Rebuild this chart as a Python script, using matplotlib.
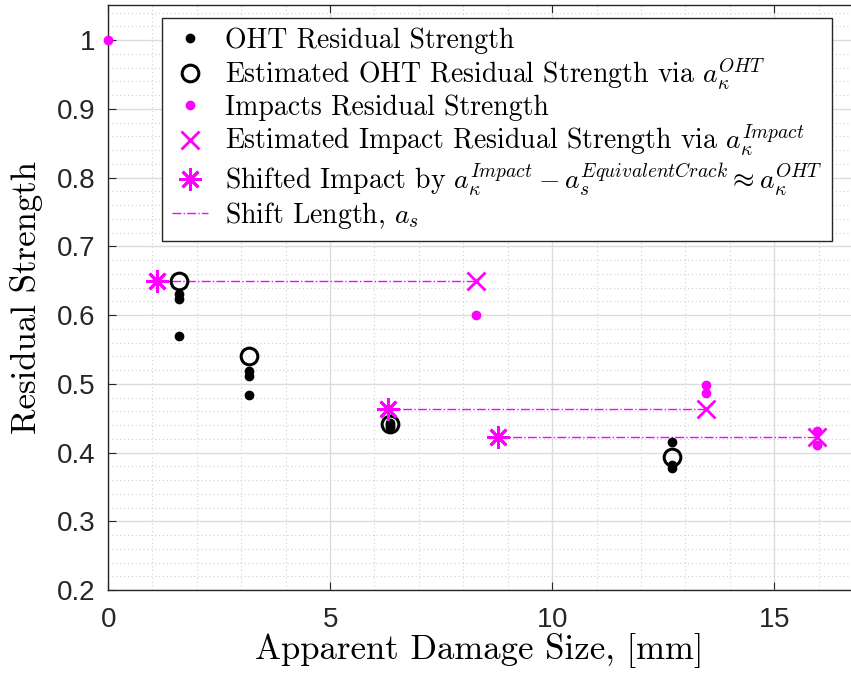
import matplotlib
matplotlib.use("Agg")
import matplotlib.pyplot as plt
from matplotlib.ticker import MultipleLocator

# measured data
oht_x = [1.59, 1.59, 1.59, 3.18, 3.18, 3.18, 6.35, 6.35, 6.35, 12.7, 12.7, 12.7]
oht_y = [0.631, 0.624, 0.569, 0.518, 0.512, 0.484, 0.443, 0.440, 0.437, 0.415, 0.382, 0.377]

est_oht_x = [1.59, 3.18, 6.35, 12.7]
est_oht_y = [0.650, 0.540, 0.442, 0.393]

imp_x = [0.0, 8.29, 13.46, 13.46, 15.96, 15.96]
imp_y = [1.0, 0.600, 0.498, 0.486, 0.432, 0.411]

est_imp_x = [8.29, 13.46, 15.96]
est_imp_y = [0.650, 0.463, 0.422]

shift_x = [1.10, 6.31, 8.78]
shift_y = [0.650, 0.463, 0.422]

plt.rcParams['mathtext.fontset'] = 'cm'
plt.rcParams['font.family'] = 'serif'
plt.rcParams['font.serif'] = ['cmr10', 'DejaVu Serif']
plt.rcParams['axes.formatter.use_mathtext'] = True

mag = '#ff00ff'

fig = plt.figure(figsize=(8.51, 6.79), dpi=100)
ax = fig.add_axes([108 / 851, 89 / 679, 743 / 851, 585 / 679])

# shift lines
for i in range(len(shift_x)):
    ln, = ax.plot([shift_x[i], est_imp_x[i]], [shift_y[i], est_imp_y[i]],
                  color=mag, lw=1.0, ls='-.', zorder=2)
h_line = ln

h_oht, = ax.plot(oht_x, oht_y, 'o', color='black', ms=6, ls='none', zorder=3)
h_est_oht, = ax.plot(est_oht_x, est_oht_y, 'o', mfc='none', mec='black', mew=2.2,
                     ms=12, ls='none', zorder=3)
h_imp, = ax.plot(imp_x, imp_y, 'o', color=mag, ms=6, ls='none', zorder=3, clip_on=False)
h_est_imp, = ax.plot(est_imp_x, est_imp_y, 'x', color=mag, mew=2, ms=13, ls='none', zorder=4)
h_shift, = ax.plot(shift_x, shift_y, marker=(8, 2, 0), color=mag, mew=2, ms=16, ls='none', zorder=4)

ax.set_xlim(0, 16.73)
ax.set_ylim(0.2, 1.051)
ax.xaxis.set_major_locator(MultipleLocator(5))
ax.xaxis.set_minor_locator(MultipleLocator(1))
ax.yaxis.set_minor_locator(MultipleLocator(0.02))
ax.set_yticks([0.2, 0.3, 0.4, 0.5, 0.6, 0.7, 0.8, 0.9, 1.0])
ax.set_yticklabels(['0.2', '0.3', '0.4', '0.5', '0.6', '0.7', '0.8', '0.9', '1'])

ax.grid(which='major', color='#dcdcdc', lw=1, ls='-')
ax.grid(which='minor', color='#d0d0d0', lw=0.8, ls=(0, (1, 2.5)))
ax.set_axisbelow(True)

ax.tick_params(which='both', direction='in', top=True, right=False, labelsize=20,
               colors='#262626', length=6, pad=9)
ax.tick_params(axis='x', pad=12)
ax.tick_params(which='minor', length=0)
for lab in ax.get_xticklabels() + ax.get_yticklabels():
    lab.set_family('Liberation Sans')
for s in ['left', 'bottom', 'top']:
    ax.spines[s].set_color('#262626')
    ax.spines[s].set_linewidth(1)
ax.spines['right'].set_visible(False)

ax.set_xlabel('Apparent Damage Size, [mm]', fontsize=25, labelpad=0)
ax.set_ylabel('Residual Strength', fontsize=25, labelpad=10)

labels = ['OHT Residual Strength',
          r'Estimated OHT Residual Strength via $a_\kappa^{OHT}$',
          'Impacts Residual Strength',
          r'Estimated Impact Residual Strength via $a_\kappa^{Impact}$',
          r'Shifted Impact by $a_\kappa^{Impact} - a_s^{EquivalentCrack} \approx a_\kappa^{OHT}$',
          r'Shift Length, $a_s$']
leg = ax.legend([h_oht, h_est_oht, h_imp, h_est_imp, h_shift, h_line], labels,
                loc='upper left', bbox_to_anchor=(0.06, 0.995), fontsize=20,
                fancybox=False, framealpha=1, edgecolor='#262626',
                handlelength=1.3, handletextpad=0.6, labelspacing=0.08,
                borderpad=0.35, borderaxespad=0.35)
leg.get_frame().set_linewidth(1)

fig.savefig('out.png', dpi=100)
